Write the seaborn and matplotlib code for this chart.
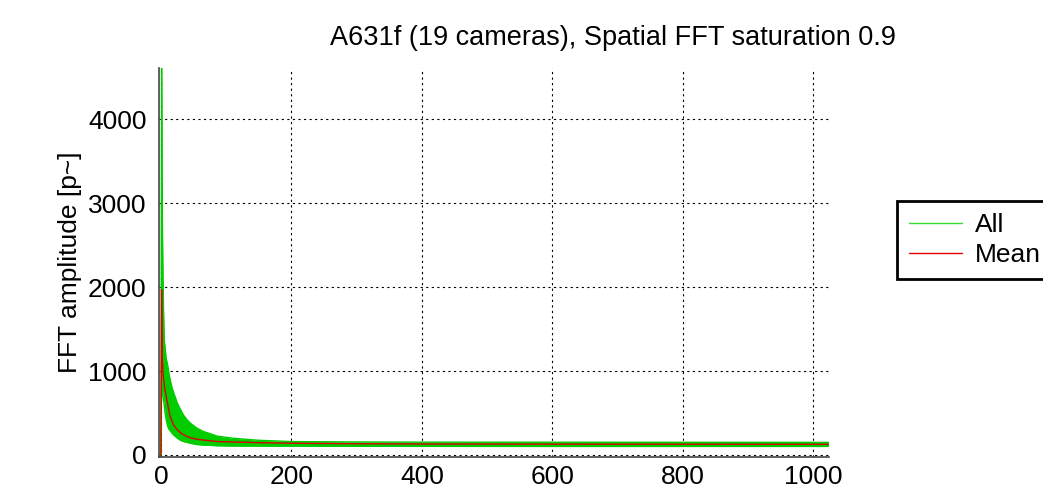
import numpy as np
import pandas as pd
import matplotlib
matplotlib.use("Agg")
import matplotlib.pyplot as plt
import seaborn as sns

# frequency bins, with the spread of the 19 cameras and their mean
freq = [0, 1, 2, 3, 4, 5, 6, 8, 10, 12, 14, 17, 20, 25, 30, 35, 40, 45, 55, 65,
        75, 86, 110, 150, 200, 300, 400, 600, 800, 1023]
all_low = [0, 900, 800, 700, 650, 600, 520, 420, 350, 310, 290, 260, 235, 200, 175,
           160, 150, 140, 125, 118, 115, 110, 107, 106, 105, 104, 103, 102, 102, 102]
all_high = [0, 4610, 2900, 2180, 1700, 1370, 1300, 1150, 1080, 980, 900, 800, 730, 620,
            540, 470, 420, 380, 320, 280, 255, 225, 200, 175, 160, 155, 153, 152, 151, 150]
mean_amp = [0, 1970, 1150, 1000, 900, 850, 780, 700, 620, 540, 460, 400, 350, 300,
            265, 240, 220, 205, 188, 178, 170, 160, 155, 147, 140, 134, 131, 129, 128, 127]

xticks = [0, 200, 400, 600, 800, 1000]
yticks = [0, 1000, 2000, 3000, 4000]

df = pd.DataFrame({"freq": freq, "low": all_low, "high": all_high, "mean": mean_amp})

sns.set_style("white")
plt.rcParams["font.family"] = ["Liberation Sans", "DejaVu Sans"]
plt.rcParams["text.color"] = "black"
plt.rcParams["xtick.labelcolor"] = "black"
plt.rcParams["ytick.labelcolor"] = "black"
plt.rcParams["axes.labelcolor"] = "black"

green = "#00cc00"
red = "#e00000"
fs = 19

fig = plt.figure(figsize=(10.43, 5), dpi=100)
ax = fig.add_axes([159 / 1043, 43 / 500, 670 / 1043, 389 / 500])

ax.fill_between(df["freq"], df["low"], df["high"], color=green, linewidth=0)
sns.lineplot(data=df, x="freq", y="high", ax=ax, color=green, linewidth=1, label="All")
sns.lineplot(data=df, x="freq", y="low", ax=ax, color=green, linewidth=1)
sns.lineplot(data=df, x="freq", y="mean", ax=ax, color=red, linewidth=1, label="Mean")

ax.set_xlim(-3, 1024)
ax.set_ylim(-24, 4610)
ax.set_xticks(xticks)
ax.set_yticks(yticks)
ax.grid(True, color="black", linestyle=(0, (2, 3)), linewidth=0.8)
ax.set_axisbelow(True)
for s in ["top", "right"]:
    ax.spines[s].set_visible(False)
for s in ["left", "bottom"]:
    ax.spines[s].set_color("#444444")
    ax.spines[s].set_linewidth(1.2)
ax.tick_params(direction="in", length=14, width=1, color="#333333",
               labelsize=fs, labelcolor="black")
ax.tick_params(axis="x", pad=6)
ax.tick_params(axis="y", pad=9)
ax.set_xlabel("")
ax.set_ylabel("FFT amplitude [p~]", fontsize=fs, labelpad=4, color="black")

fig.text(613 / 1043, 1 - 38 / 500, "A631f (19 cameras), Spatial FFT saturation 0.9",
         ha="center", va="center", fontsize=fs + 0.5, color="black")

leg = ax.legend(loc="upper left", bbox_to_anchor=(897 / 1043, 1 - 201 / 500),
                bbox_transform=fig.transFigure, borderaxespad=0, fontsize=fs,
                frameon=True, fancybox=False, handlelength=2.0, handletextpad=0.5,
                borderpad=0.45, labelspacing=0.25)
leg.get_frame().set_edgecolor("black")
leg.get_frame().set_alpha(1)
leg.get_frame().set_linewidth(2)
leg.get_lines()[0].set_color("#33dd33")

fig.savefig("out.png", dpi=100)
